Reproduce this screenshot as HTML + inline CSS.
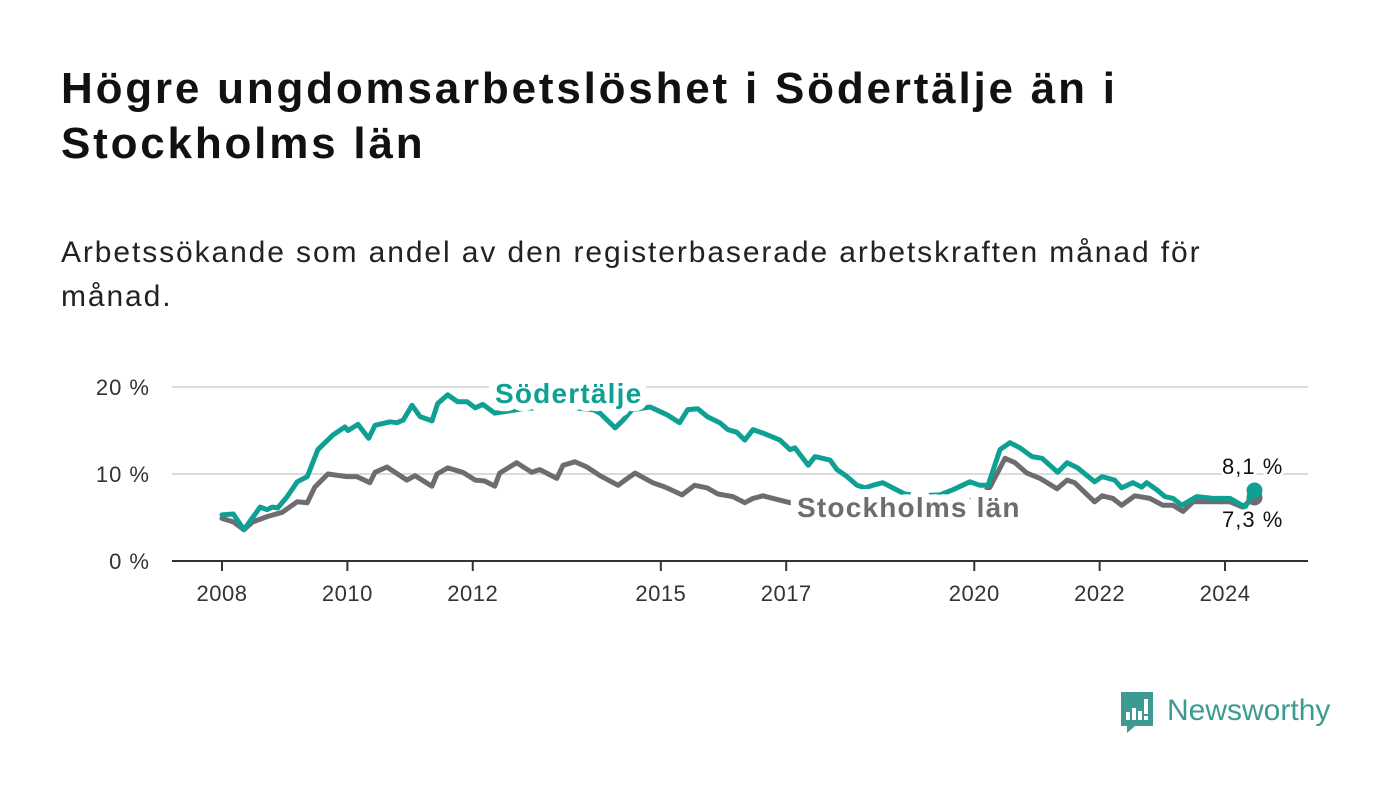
<!DOCTYPE html>
<html><head><meta charset="utf-8">
<style>
html,body{margin:0;padding:0;background:#fff;}
body{width:1400px;height:794px;position:relative;overflow:hidden;font-family:"Liberation Sans",sans-serif;color:#111;}
.t{position:absolute;left:61px;top:61px;font-size:44px;letter-spacing:2.8px;font-weight:bold;line-height:55px;margin:0;}
.s{position:absolute;left:61px;top:231px;font-size:30px;letter-spacing:1.9px;line-height:44px;color:#222;margin:0;}
svg{position:absolute;left:0;top:0;}
</style></head><body>
<h1 class="t">Högre ungdomsarbetslöshet i Södertälje än i<br>Stockholms län</h1>
<p class="s">Arbetssökande som andel av den registerbaserade arbetskraften månad för<br>månad.</p>
<svg id="chart" width="1400" height="794"></svg>
<script>
const tealDates=[0,.18,.35,.61,.72,.80,.89,1.04,1.20,1.36,1.53,1.77,1.96,2.01,2.17,2.34,2.44,2.68,2.79,2.89,3.03,3.16,3.35,3.44,3.60,3.76,3.91,4.04,4.16,4.35,4.8,5.3,5.92,6.03,6.27,6.40,6.54,6.83,7.10,7.30,7.43,7.59,7.74,7.94,8.07,8.21,8.34,8.47,8.63,8.90,9.06,9.14,9.35,9.46,9.70,9.81,9.97,10.13,10.26,10.38,10.54,10.70,10.89,11.13,11.45,11.66,11.93,12.09,12.22,12.41,12.57,12.73,12.92,13.08,13.33,13.48,13.65,13.92,14.04,14.24,14.35,14.53,14.67,14.75,14.91,15.04,15.17,15.31,15.55,15.81,16.08,16.32,16.47];
const tealValues=[5.3,5.4,3.6,6.2,5.9,6.2,6.1,7.4,9.1,9.7,12.8,14.5,15.4,15.0,15.7,14.1,15.6,16.0,15.9,16.2,17.9,16.6,16.1,18.1,19.1,18.3,18.3,17.6,18.0,17.0,17.5,17.8,17.4,17.0,15.3,16.2,17.4,17.7,16.8,15.9,17.4,17.5,16.6,15.9,15.1,14.8,13.9,15.1,14.7,13.9,12.8,13.0,11.0,12.0,11.6,10.5,9.7,8.7,8.4,8.7,9.0,8.4,7.7,7.5,7.6,8.2,9.1,8.7,8.7,12.8,13.6,13.0,12.0,11.8,10.2,11.3,10.7,9.1,9.7,9.3,8.4,9.0,8.5,9.0,8.2,7.4,7.2,6.4,7.4,7.2,7.2,6.2,8.1];
const grayDates=[0,.18,.35,.49,.72,.96,1.20,1.36,1.48,1.69,1.99,2.15,2.36,2.44,2.63,2.95,3.08,3.35,3.43,3.60,3.84,4.04,4.19,4.35,4.43,4.70,4.94,5.07,5.34,5.44,5.63,5.82,6.03,6.32,6.43,6.59,6.87,7.07,7.34,7.54,7.74,7.91,8.15,8.34,8.47,8.63,8.79,9.06,9.5,10.0,10.5,11.0,11.5,12.0,12.25,12.49,12.65,12.84,13.05,13.32,13.48,13.60,13.92,14.04,14.21,14.35,14.56,14.80,15.01,15.17,15.33,15.49,16.08,16.28,16.47];
const grayValues=[4.9,4.5,3.6,4.5,5.1,5.6,6.8,6.7,8.5,10.0,9.7,9.7,9.0,10.2,10.8,9.3,9.8,8.6,10.0,10.7,10.2,9.3,9.2,8.6,10.1,11.3,10.2,10.5,9.5,11.0,11.4,10.8,9.8,8.7,9.3,10.1,9.0,8.5,7.6,8.7,8.4,7.7,7.4,6.7,7.2,7.5,7.2,6.7,6.4,6.2,6.3,6.5,6.7,7.0,8.5,11.8,11.3,10.1,9.5,8.3,9.3,9.0,6.8,7.5,7.2,6.4,7.5,7.2,6.4,6.4,5.7,6.8,6.8,6.2,7.3];
const yTicks=[0,10,20];
const yTickLabels=["0 %","10 %","20 %"];
const xTicks=[2008,2010,2012,2015,2017,2020,2022,2024];

const NS="http://www.w3.org/2000/svg";
const svg=document.getElementById('chart');
const X=y=>222+(y-2008)*62.69;
const Xd=d=>X(2008+d);
const Y=v=>561-v*8.7;
function mk(tag,attrs,parent){const e=document.createElementNS(NS,tag);for(const k in attrs)e.setAttribute(k,attrs[k]);(parent||svg).appendChild(e);return e;}

yTicks.forEach((t,i)=>{
  if(t>0){const g=mk('line',{x1:172,x2:1308,y1:Y(t),y2:Y(t),stroke:'#dcdcdc','stroke-width':2});
  
  }
  const l=mk('text',{x:150,y:Y(t)+8,'text-anchor':'end','font-size':22,'letter-spacing':1,fill:'#333','font-family':'Liberation Sans, sans-serif'});
  l.textContent=yTickLabels[i];
  
  
});
const ax=mk('line',{x1:172,x2:1308,y1:561,y2:561,stroke:'#333','stroke-width':2});


xTicks.forEach(t=>{
  const k=mk('line',{x1:X(t),x2:X(t),y1:561,y2:571,stroke:'#333','stroke-width':2});
  
  
  const l=mk('text',{x:X(t),y:601,'text-anchor':'middle','font-size':22,'letter-spacing':0.5,fill:'#333','font-family':'Liberation Sans, sans-serif'});
  l.textContent=t;
  
  
});
function line(d,v,color,name){
  const p=mk('path',{d:d.map((x,i)=>(i?'L':'M')+Xd(x).toFixed(1)+','+Y(v[i]).toFixed(1)).join(''),fill:'none',stroke:color,'stroke-width':5,'stroke-linejoin':'round','stroke-linecap':'round'});
  
  
  const n=d.length-1;
  const c=mk('circle',{cx:Xd(d[n]),cy:Y(v[n]),r:8,fill:color});
  
  
}
line(grayDates,grayValues,'#6f6c71','stockholm-line');
line(tealDates,tealValues,'#0ea193','sodertalje-line');
function lab(x,y,txt,color,name,size,bold,ls){
  const t=mk('text',{x:x,y:y,'font-size':size,'letter-spacing':ls,'font-weight':bold?'bold':'normal',fill:color,stroke:'#fff','stroke-width':bold?16:6,'paint-order':'stroke','stroke-linejoin':'round','font-family':'Liberation Sans, sans-serif'});
  t.textContent=txt;
  
  
}
lab(495,403,'Södertälje','#0ea193','sodertalje-label',28,true,1.2);
lab(797,517,'Stockholms län','#6f6c71','stockholm-label',28,true,1.2);
lab(1222,474,'8,1 %','#111','sodertalje-end-value',22,false,1);
lab(1222,527,'7,3 %','#111','stockholm-end-value',22,false,1);
</script>
<svg width="1400" height="794" style="pointer-events:none">
  <path d="M1121 692 h32 v34 h-18 l-8 7 v-7 h-6 z" fill="#3c9a92"/>
  <rect x="1126" y="712" width="4" height="8" fill="#fff"/>
  <rect x="1132" y="708" width="4" height="12" fill="#fff"/>
  <rect x="1138" y="711" width="4" height="9" fill="#fff"/>
  <rect x="1144" y="699" width="4" height="15" fill="#fff"/>
  <rect x="1144" y="716" width="4" height="4" fill="#fff"/>
  <text x="1167" y="720" font-size="30" fill="#3c9a92" font-family="Liberation Sans, sans-serif">Newsworthy</text>
</svg>
</body></html>
